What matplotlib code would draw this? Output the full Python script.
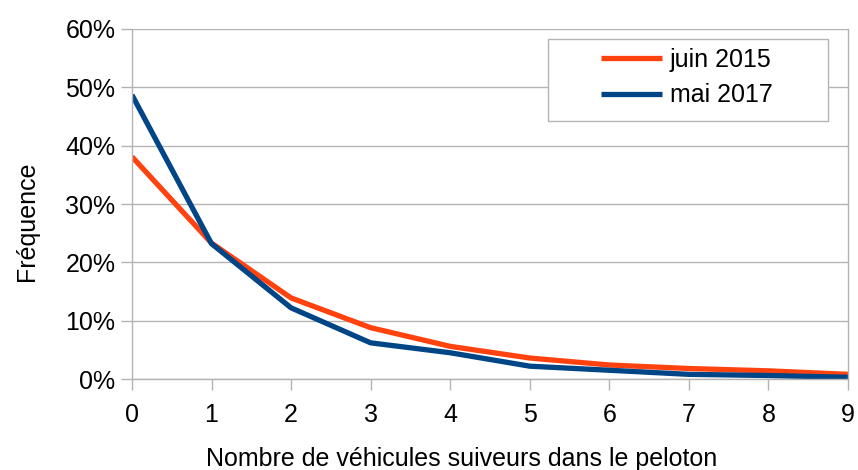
import matplotlib.pyplot as plt
from matplotlib.patches import Rectangle
from matplotlib.ticker import PercentFormatter

plt.rcParams["font.family"] = ["Liberation Sans", "DejaVu Sans"]

vehicules = [0, 1, 2, 3, 4, 5, 6, 7, 8, 9]
juin_2015 = [38.1, 23.3, 13.9, 8.8, 5.6, 3.6, 2.4, 1.8, 1.4, 0.8]
mai_2017 = [48.7, 23.2, 12.2, 6.2, 4.5, 2.2, 1.5, 0.8, 0.6, 0.3]

grey = "#b3b3b3"

fig = plt.figure(figsize=(8.58, 4.70), dpi=100)
ax = fig.add_axes([0.1538, 0.1936, 0.8345, 0.7447])

ax.plot(vehicules, juin_2015, color="#ff420e", linewidth=3.8, label="juin 2015",
        solid_capstyle="butt", solid_joinstyle="round")
ax.plot(vehicules, mai_2017, color="#004586", linewidth=3.8, label="mai 2017",
        solid_capstyle="butt", solid_joinstyle="round")

ax.set_xlim(0, 9)
ax.set_ylim(0, 60)
ax.set_xticks(vehicules)
ax.set_yticks(range(0, 61, 10))
ax.yaxis.set_major_formatter(PercentFormatter(decimals=0))
ax.grid(axis="y", color=grey, linewidth=1)
ax.set_axisbelow(True)
for s in ax.spines.values():
    s.set_color(grey)
    s.set_linewidth(1)
ax.spines["top"].set_visible(False)
ax.tick_params(length=8, width=1, color=grey, labelsize=18)
ax.tick_params(axis="x", pad=9)
ax.tick_params(axis="y", pad=4)

ax.set_xlabel("Nombre de véhicules suiveurs dans le peloton", fontsize=18)
ax.set_ylabel("Fréquence", fontsize=18)
ax.xaxis.set_label_coords(0.461, -0.194)
ax.yaxis.set_label_coords(-0.13, 0.451)

# legend box is wider than the entries, so draw the frame separately
ax.add_patch(Rectangle((0.581, 0.737), 0.391, 0.234, transform=ax.transAxes,
                       facecolor="white", edgecolor=grey, linewidth=1, zorder=4))
leg = ax.legend(loc="upper left", bbox_to_anchor=(0.655, 0.945), fontsize=18,
                frameon=False, handlelength=2.45, borderpad=0, labelspacing=0.45,
                handletextpad=0.3, borderaxespad=0)
leg.set_zorder(5)

fig.savefig("out.png", dpi=100)
